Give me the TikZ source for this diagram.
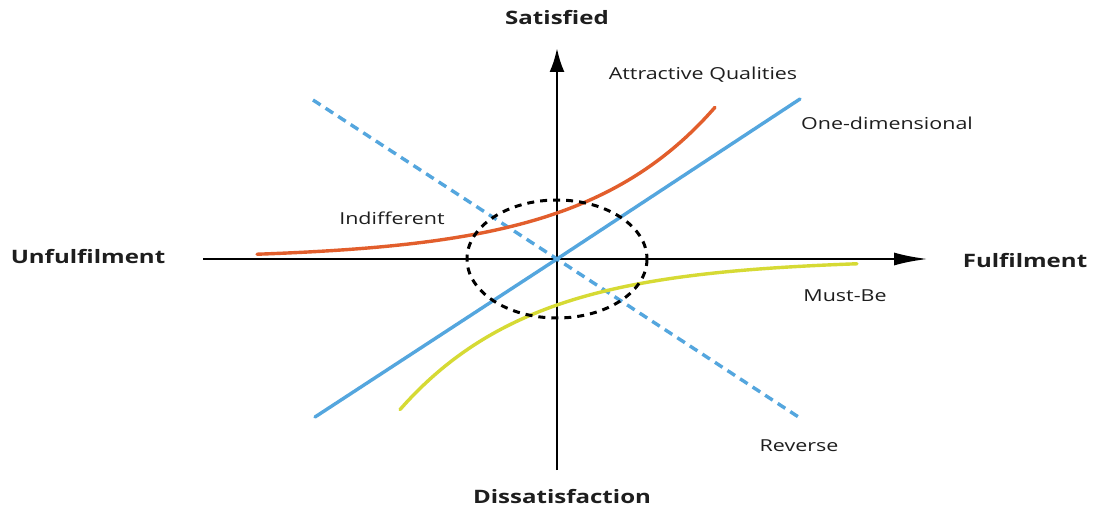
\documentclass[tikz,border=0pt]{standalone}
\usepackage{fontspec}
\setmainfont{Open Sans}[FakeStretch=1.3]
\usetikzlibrary{arrows.meta, positioning}

\definecolor{kanoblue}{RGB}{84,166,222}
\definecolor{kanoorange}{RGB}{226,94,44}
\definecolor{kanoyellow}{RGB}{214,218,52}
\definecolor{kanotext}{RGB}{30,30,30}

\tikzset{
  axis/.style={line width=2.8pt, black},
  curve/.style={line width=3.4pt, line cap=round},
  axislabel/.style={font=\bfseries\fontsize{18.5}{22}\selectfont, text=kanotext},
  kindlabel/.style={font=\fontsize{16.5}{19}\selectfont, text=kanotext}
}

\begin{document}
\begin{tikzpicture}[x=1pt, y=-1pt]
        \useasboundingbox[fill=white] (0, 0) rectangle (1093, 511);
        \coordinate (o) at (557, 259);
        \coordinate (top) at (557, 48);
        \coordinate (bot) at (557, 470);
        \coordinate (lft) at (203, 259);
        \coordinate (rgt) at (928, 259);
        % axes
        \draw[axis, -{Latex[length=24pt, width=15pt]}] (bot) -- (top);
        \draw[axis, -{Latex[length=34pt, width=13pt]}] (lft) -- (rgt);
        % the five kinds of quality
        \draw[curve, kanoblue] (315, 417) -- (o) -- (800, 99);
        \draw[curve, kanoblue, line cap=butt, dash pattern=on 9pt off 6pt] (313, 100) -- (o) -- (800, 418);
        \draw[curve, kanoorange] plot[domain=257:715, samples=80] (\x, {259 - 46*exp(0.00756*(\x - 557))});
        \draw[curve, kanoyellow] plot[domain=400:857, samples=80] (\x, {259 + 46*exp(-0.00756*(\x - 557))});
        \draw[black, line width=3pt, dash pattern=on 7pt off 6pt] (o) ellipse[x radius=90, y radius=59];
        % labels
        \node[axislabel] (sat) at (557, 18) {Satisfied};
        \node[axislabel] (dis) at (562, 497) {Dissatisfaction};
        \node[axislabel] (unf) at (88, 257) {Unfulfilment};
        \node[axislabel] (ful) at (1025, 261) {Fulfilment};
        \node[kindlabel] (att) at (703, 75) {Attractive Qualities};
        \node[kindlabel] (one) at (887, 123) {One-dimensional};
        \node[kindlabel] (ind) at (392, 218) {Indifferent};
        \node[kindlabel] (must) at (845, 296) {Must-Be};
        \node[kindlabel] (rev) at (799, 446) {Reverse};
      \end{tikzpicture}
\end{document}
